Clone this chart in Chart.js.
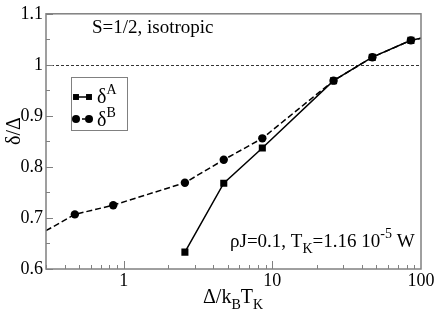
<!DOCTYPE html>
<html>
<head>
<meta charset="utf-8">
<script src="https://cdn.jsdelivr.net/npm/chart.js@4/dist/chart.umd.min.js"></script>
<style>
  html, body { margin: 0; padding: 0; background: #fff; }
  #wrap { width: 436px; height: 311px; }
</style>
</head>
<body>
<div id="wrap"><canvas id="chart" width="436" height="311"></canvas></div>
<script>
// values
var xA = [2.58, 4.71, 8.56, 25.8, 47.1, 85.5, 100];
var deltaA = [0.633, 0.768, 0.837, 0.969, 1.015, 1.048, 1.052];
var xB = [0.3, 0.469, 0.85, 2.58, 4.71, 8.56, 25.8, 47.1, 85.5, 100];
var deltaB = [0.675, 0.707, 0.725, 0.769, 0.814, 0.856, 0.969, 1.015, 1.048, 1.052];
// end points are where the curves leave the frame (no marker)
var markA = [1, 1, 1, 1, 1, 1, 0];
var markB = [0, 1, 1, 1, 1, 1, 1, 1, 1, 0];

var xTickValues = [1, 10, 100];
var xTickLabels = ['1', '10', '100'];
var yTickValues = [1.1, 1, 0.9, 0.8, 0.7, 0.6];
var yTickLabels = ['1.1', '1', '0.9', '0.8', '0.7', '0.6'];

var FONT = "'Liberation Serif', 'Times New Roman', serif";
var GRAY = '#808080';

function pts(xs, ys) {
  return xs.map(function (x, i) { return { x: x, y: ys[i] }; });
}

// text with sub/superscripts: parts = [[text, 'sub'|'sup'|undefined], ...]
function richText(ctx, parts, x, y, size) {
  var cx = x;
  parts.forEach(function (p) {
    var small = p[1] ? Math.round(size * 0.72) : size;
    var dy = p[1] === 'sub' ? size * 0.3 : (p[1] === 'sup' ? -size * 0.45 : 0);
    ctx.font = small + 'px ' + FONT;
    ctx.fillText(p[0], cx, y + dy);
    cx += ctx.measureText(p[0]).width;
  });
  return cx - x;
}
function richWidth(ctx, parts, size) {
  var w = 0;
  parts.forEach(function (p) {
    var small = p[1] ? Math.round(size * 0.72) : size;
    ctx.font = small + 'px ' + FONT;
    w += ctx.measureText(p[0]).width;
  });
  return w;
}

var decor = {
  id: 'decor',
  beforeDatasetsDraw: function (chart) {
    var ctx = chart.ctx, a = chart.chartArea;
    var ys = chart.scales.y;
    ctx.save();
    // dashed reference line at 1
    var y1 = Math.round(ys.getPixelForValue(1)) + 0.5;
    ctx.strokeStyle = '#000';
    ctx.lineWidth = 0.8;
    ctx.setLineDash([3, 2]);
    ctx.beginPath();
    ctx.moveTo(a.left, y1);
    ctx.lineTo(a.right, y1);
    ctx.stroke();
    ctx.restore();
  },
  afterDraw: function (chart) {
    var ctx = chart.ctx, a = chart.chartArea;
    var xs = chart.scales.x, ys = chart.scales.y;
    ctx.save();
    // frame
    ctx.strokeStyle = GRAY;
    ctx.lineWidth = 1.5;
    ctx.strokeRect(a.left, a.top, a.right - a.left, a.bottom - a.top);

    // inward ticks
    ctx.lineWidth = 1;
    ctx.beginPath();
    for (var k = 0; k <= 10; k++) {
      var v = 0.6 + k * 0.05;
      var py = Math.round(ys.getPixelForValue(v)) + 0.5;
      ctx.moveTo(a.left, py);
      ctx.lineTo(a.left + (k % 2 === 0 ? 7 : 4), py);
    }
    [0.1, 1, 10].forEach(function (dec) {
      for (var m = 1; m <= 9; m++) {
        var val = dec * m;
        if (val < xs.min || val > xs.max) continue;
        var px = Math.round(xs.getPixelForValue(val)) + 0.5;
        ctx.moveTo(px, a.bottom);
        ctx.lineTo(px, a.bottom - (m === 1 ? 8 : 4));
      }
    });
    ctx.stroke();

    ctx.fillStyle = '#000';
    ctx.textBaseline = 'alphabetic';
    ctx.textAlign = 'left';

    // annotations
    richText(ctx, [['S=1/2, isotropic']], 92, 33, 19);
    richText(ctx, [['\u03c1J=0.1, T'], ['K', 'sub'], ['=1.16 10'], ['-5', 'sup'], [' W']], 230, 247, 19);

    // axis titles
    richText(ctx, [['\u0394/k'], ['B', 'sub'], ['T'], ['K', 'sub']], 203, 303, 20);
    ctx.save();
    ctx.translate(20, 131);
    ctx.rotate(-Math.PI / 2);
    var yt = [['\u03b4/\u0394']];
    var wy = richWidth(ctx, yt, 20);
    richText(ctx, yt, -wy / 2, 0, 20);
    ctx.restore();

    // legend
    ctx.strokeStyle = GRAY;
    ctx.lineWidth = 1;
    ctx.strokeRect(71.5, 77.5, 56, 53);
    ctx.strokeStyle = '#000';
    ctx.lineWidth = 1.5;
    ctx.beginPath();
    ctx.moveTo(76, 97); ctx.lineTo(89, 97);
    ctx.stroke();
    ctx.setLineDash([3, 3]);
    ctx.beginPath();
    ctx.moveTo(76, 119); ctx.lineTo(89, 119);
    ctx.stroke();
    ctx.setLineDash([]);
    var sq = { pointStyle: 'rect', radius: 4.2, borderWidth: 0 };
    var ci = { pointStyle: 'circle', radius: 4, borderWidth: 0 };
    ctx.fillStyle = '#000';
    Chart.helpers.drawPoint(ctx, sq, 76, 97);
    Chart.helpers.drawPoint(ctx, sq, 89, 97);
    Chart.helpers.drawPoint(ctx, ci, 76, 119);
    Chart.helpers.drawPoint(ctx, ci, 89, 119);
    richText(ctx, [['\u03b4'], ['A', 'sup']], 97, 103, 20);
    richText(ctx, [['\u03b4'], ['B', 'sup']], 97, 126, 20);
    ctx.restore();
  }
};

Chart.defaults.font.family = FONT;
Chart.defaults.color = '#000';

new Chart(document.getElementById('chart').getContext('2d'), {
  type: 'line',
  data: {
    datasets: [{
      label: '\u03b4A',
      data: pts(xA, deltaA),
      borderColor: '#000',
      backgroundColor: '#000',
      borderWidth: 1.5,
      pointStyle: 'rect',
      pointRadius: markA.map(function (m) { return m ? 5 : 0; }),
      pointBorderWidth: 0,
      tension: 0
    }, {
      label: '\u03b4B',
      data: pts(xB, deltaB),
      borderColor: '#000',
      backgroundColor: '#000',
      borderWidth: 1.5,
      borderDash: [6, 3],
      pointStyle: 'circle',
      pointRadius: markB.map(function (m) { return m ? 4.2 : 0; }),
      pointBorderWidth: 0,
      tension: 0
    }]
  },
  options: {
    responsive: false,
    animation: false,
    clip: 0,
    layout: { padding: { top: 7, right: 15, left: 0, bottom: 0 } },
    plugins: { legend: { display: false }, tooltip: { enabled: false } },
    scales: {
      x: {
        type: 'logarithmic',
        min: 0.3,
        max: 100,
        grid: { display: false, drawTicks: false },
        border: { display: false },
        afterBuildTicks: function (s) {
          s.ticks = xTickValues.map(function (v) { return { value: v }; });
        },
        afterFit: function (s) { s.height = 42; },
        ticks: {
          font: { size: 18 },
          padding: 1,
          maxRotation: 0,
          autoSkip: false,
          callback: function (v) {
            var i = xTickValues.indexOf(v);
            return i >= 0 ? xTickLabels[i] : '';
          }
        }
      },
      y: {
        type: 'linear',
        min: 0.6,
        max: 1.1,
        grid: { display: false, drawTicks: false },
        border: { display: false },
        afterBuildTicks: function (s) {
          s.ticks = yTickValues.map(function (v) { return { value: v }; });
        },
        afterFit: function (s) { s.width = 46; },
        ticks: {
          font: { size: 18 },
          padding: 3,
          callback: function (v) {
            for (var i = 0; i < yTickValues.length; i++) {
              if (Math.abs(yTickValues[i] - v) < 1e-6) return yTickLabels[i];
            }
            return '';
          }
        }
      }
    }
  },
  plugins: [decor]
});
</script>
</body>
</html>
